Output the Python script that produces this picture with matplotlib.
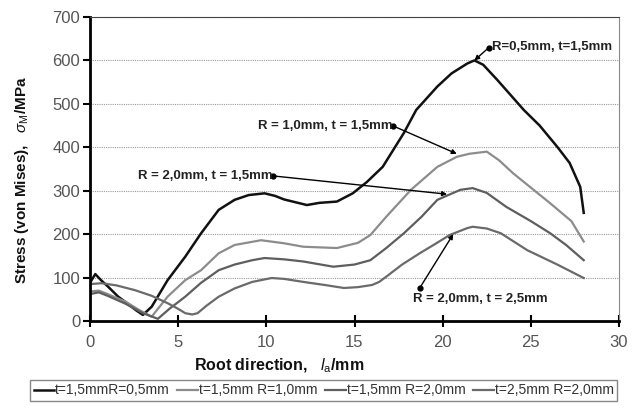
import numpy as np
import matplotlib
matplotlib.use('Agg')
import matplotlib.pyplot as plt

plt.rcParams['font.family'] = ['Liberation Sans', 'DejaVu Sans']
plt.rcParams['mathtext.fontset'] = 'custom'
plt.rcParams['mathtext.rm'] = 'Liberation Sans'
plt.rcParams['mathtext.it'] = 'Liberation Sans:italic'
plt.rcParams['mathtext.bf'] = 'Liberation Sans:bold'

# t=1,5mm R=0,5mm
x_r05 = [0, 0.3, 0.6, 1.0, 1.6, 2.2, 2.6, 3.0, 3.5, 4.4, 5.4, 6.3, 7.3, 8.2, 9.0, 9.9, 10.5,
         11.0, 12.3, 13.0, 14.0, 14.9, 15.7, 16.6, 17.8, 18.5, 19.7, 20.5, 21.4, 21.8, 22.3,
         23.1, 24.6, 25.5, 26.5, 27.2, 27.8, 28.0]
y_r05 = [88, 108, 95, 80, 56, 38, 25, 14, 33, 94, 148, 202, 256, 279, 290, 294, 288,
         280, 267, 272, 275, 294, 320, 355, 433, 486, 540, 570, 593, 600, 590,
         555, 486, 450, 401, 364, 309, 249]

# t=1,5mm R=1,0mm
x_r10 = [0, 0.5, 1.0, 2.0, 2.8, 3.5, 4.4, 5.4, 6.3, 7.3, 8.2, 9.7, 11.0, 12.1, 14.0, 15.2,
         15.9, 16.8, 18.2, 19.7, 20.8, 21.5, 22.5, 23.2, 24.0, 26.1, 27.3, 28.0]
y_r10 = [68, 70, 62, 45, 25, 10, 56, 94, 117, 156, 175, 186, 179, 171, 168, 180,
         198, 240, 302, 355, 378, 385, 390, 370, 340, 271, 230, 183]

# t=1,5mm R=2,0mm
x_r20 = [0, 0.5, 1.0, 2.0, 3.0, 3.85, 4.5, 5.4, 6.3, 7.3, 8.2, 9.2, 9.9, 11.0, 12.1, 13.8,
         15.0, 15.9, 16.8, 17.8, 18.8, 19.7, 21.0, 21.7, 22.5, 23.6, 25.0, 26.1, 27.0, 28.0]
y_r20 = [62, 66, 58, 40, 18, 5, 28, 56, 88, 117, 130, 140, 145, 142, 137, 125,
         130, 140, 168, 202, 240, 279, 302, 306, 295, 263, 230, 202, 175, 140]

# t=2,5mm R=2,0mm
x_t25 = [0, 0.66, 1.5, 2.55, 3.5, 4.4, 5.0, 5.4, 5.8, 6.1, 6.6, 7.3, 8.2, 9.2, 10.3, 11.0,
         12.1, 13.3, 14.4, 15.2, 16.0, 16.4, 16.8, 17.7, 18.7, 19.6, 20.4, 21.4, 21.7, 22.5,
         23.3, 24.8, 26.5, 28.0]
y_t25 = [85, 87, 82, 71, 58, 41, 28, 18, 15, 18, 35, 56, 75, 90, 99, 97,
         90, 83, 76, 78, 83, 90, 102, 130, 156, 178, 198, 214, 217, 213,
         202, 163, 130, 99]

legend_labels = ['t=1,5mmR=0,5mm', 't=1,5mm R=1,0mm', 't=1,5mm R=2,0mm', 't=2,5mm R=2,0mm']

fig = plt.figure(figsize=(6.37, 4.05), dpi=100)
ax = fig.add_axes([90/637, 1-321/405, 529/637, 304/405])

ax.plot(x_r05, y_r05, color='#111111', lw=1.8, label=legend_labels[0])
ax.plot(x_r10, y_r10, color='#8c8c8c', lw=1.6, label=legend_labels[1])
ax.plot(x_r20, y_r20, color='#5e5e5e', lw=1.6, label=legend_labels[2])
ax.plot(x_t25, y_t25, color='#6a6a6a', lw=1.6, label=legend_labels[3])

ax.set_xlim(0, 30)
ax.set_ylim(0, 700)
ax.set_xticks(np.arange(0, 31, 5))
ax.set_yticks(np.arange(0, 701, 100))
ax.yaxis.grid(True, color='#9a9a9a', lw=0.8, linestyle=(0, (1, 1)))
ax.set_axisbelow(True)

for s in ['left', 'bottom']:
    ax.spines[s].set_linewidth(2)
    ax.spines[s].set_color('black')
ax.spines['top'].set_color('#444444')
ax.spines['right'].set_color('#888888')
ax.tick_params(axis='y', direction='out', length=5, width=1.5, labelsize=12, labelcolor='#555555', pad=2)
ax.tick_params(axis='x', direction='inout', length=8, width=1.5, labelsize=12, labelcolor='#555555', pad=6)

# annotations: dot at text end, arrow to curve
ann = [
    ((22.6, 629), (21.8, 600)),
    ((17.2, 449), (20.8, 385)),
    ((10.4, 334), (20.25, 292)),
    ((18.7, 76), (20.6, 200)),
]
for (p0, p1) in ann:
    ax.annotate('', xy=p1, xytext=p0,
                arrowprops=dict(arrowstyle='-|>', color='black', lw=1, mutation_scale=7,
                                shrinkA=0, shrinkB=0))
    ax.plot(p0[0], p0[1], 'o', color='black', ms=3.5)

tkw = dict(fontsize=9.5, fontweight='bold', color='#222222', va='center')
ax.text(22.8, 631, 'R=0,5mm, t=1,5mm', ha='left', **tkw)
ax.text(17.15, 449, 'R = 1,0mm, t = 1,5mm', ha='right', **tkw)
ax.text(10.35, 334, 'R = 2,0mm, t = 1,5mm', ha='right', **tkw)
ax.text(18.3, 51, 'R = 2,0mm, t = 2,5mm', ha='left', **tkw)

fig.text(279/637, 1-366/405, r'Root direction,   $\mathit{l}_{\mathrm{a}}$/mm',
         ha='center', va='center', fontsize=11.5, fontweight='bold', color='#111111')
fig.text(22/637, 1-180/405, r'Stress (von Mises),   $\mathit{\sigma}_{\mathrm{M}}$/MPa',
         ha='center', va='center', rotation=90, fontsize=11, fontweight='bold', color='#111111')

leg = fig.legend(loc='center', bbox_to_anchor=(0.508, 1-390.5/405), ncol=4,
                 fontsize=10, handlelength=1.5, handletextpad=0.05, columnspacing=0.55,
                 fancybox=False, edgecolor='#888888', borderpad=0.25, framealpha=1,
                 borderaxespad=0)
for t in leg.get_texts():
    t.set_color('#333333')

fig.savefig('out.png', dpi=100)
